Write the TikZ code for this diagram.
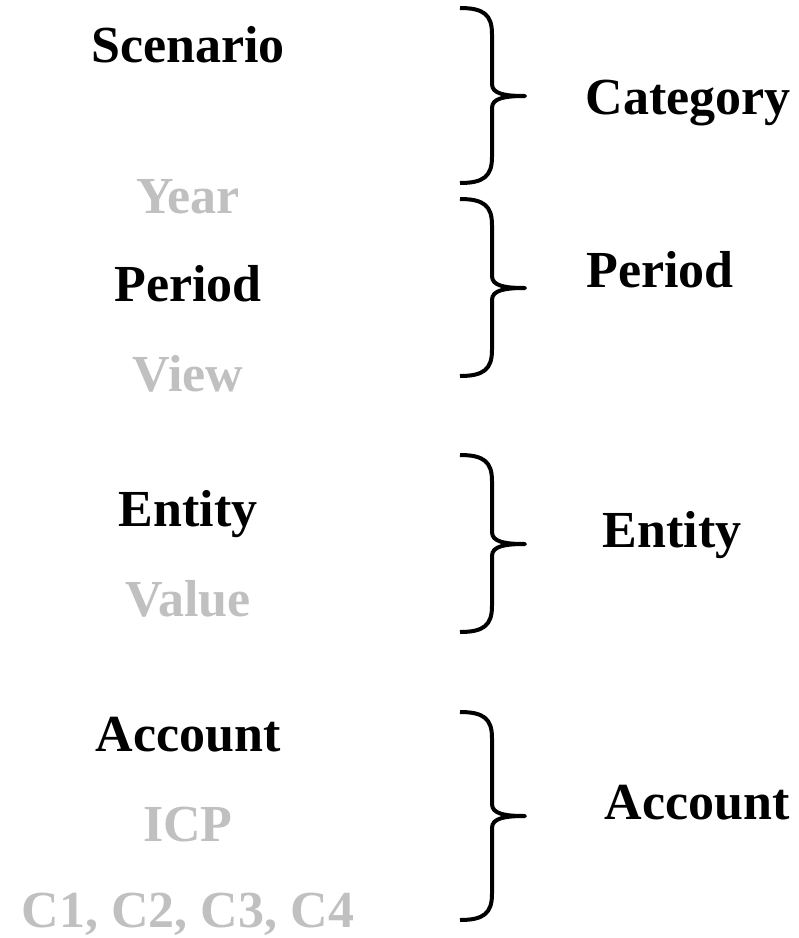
\documentclass[tikz,border=0pt]{standalone}
\usepackage{fontspec}
\setmainfont{Liberation Serif}
\definecolor{lightgr}{HTML}{C0C0C0}
\tikzset{
  lbl/.style={anchor=base, inner sep=0pt, font=\fontsize{52}{60}\selectfont\bfseries},
  blk/.style={lbl, text=black},
  gry/.style={lbl, text=lightgr},
  bracepath/.style={draw=black, line width=4pt, line join=round}
}
\newcommand{\mybrace}[3]{%
  \draw[bracepath] (460,#1) .. controls (484,#1) and (492,#1+7) .. (492,#1+26)
    -- (492,#3-12) .. controls (492,#3-2) and (505,#3) .. (525,#3)
    .. controls (505,#3) and (492,#3+2) .. (492,#3+12)
    -- (492,#2-26) .. controls (492,#2-7) and (484,#2) .. (460,#2);}
\begin{document}
\begin{tikzpicture}[x=1pt,y=-1pt]
\useasboundingbox (0,0) rectangle (799,938);
% left column
\node[blk] (scen) at (188,62) {Scenario};
\node[gry] (year) at (188,213) {Year};
\node[blk] (perl) at (188,301) {Period};
\node[gry] (view) at (188,391) {View};
\node[blk] (entl) at (188,526) {Entity};
\node[gry] (val) at (188,616) {Value};
\node[blk] (accl) at (188,751) {Account};
\node[gry] (icp) at (188,841) {ICP};
\node[gry] (cust) at (188,927) {C1, C2, C3, C4};
% braces
\mybrace{8}{183}{96}
\mybrace{199}{376}{288}
\mybrace{455}{632}{544}
\mybrace{712}{920}{816}
% right column
\node[blk] (cat) at (688,114) {Category};
\node[blk] (perr) at (660,287) {Period};
\node[blk] (entr) at (672,547) {Entity};
\node[blk] (accr) at (697,819) {Account};
\end{tikzpicture}
\end{document}
